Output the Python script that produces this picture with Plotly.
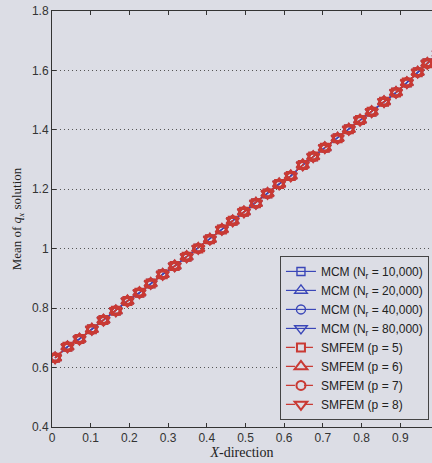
import plotly.graph_objects as go

# Marker positions along the X-direction and mean q_x values
x_pos = [0.008, 0.040, 0.071, 0.103, 0.133, 0.165, 0.195, 0.226, 0.255, 0.286,
         0.317, 0.348, 0.378, 0.408, 0.439, 0.467, 0.496, 0.527, 0.557, 0.587,
         0.617, 0.648, 0.675, 0.705, 0.738, 0.767, 0.796, 0.826, 0.858, 0.889,
         0.917, 0.945, 0.970, 0.999]
mean_qx = [0.633, 0.670, 0.696, 0.729, 0.760, 0.791, 0.824, 0.852, 0.883, 0.914,
           0.942, 0.973, 1.001, 1.032, 1.065, 1.094, 1.124, 1.153, 1.186, 1.218,
           1.245, 1.282, 1.310, 1.340, 1.372, 1.402, 1.433, 1.461, 1.495, 1.526,
           1.559, 1.594, 1.624, 1.657]

mcm_labels = ["MCM (N<sub>r</sub> = 10,000)", "MCM (N<sub>r</sub> = 20,000)",
              "MCM (N<sub>r</sub> = 40,000)", "MCM (N<sub>r</sub> = 80,000)"]
smfem_labels = ["SMFEM (p = 5)", "SMFEM (p = 6)", "SMFEM (p = 7)", "SMFEM (p = 8)"]
symbols = ["square-open", "triangle-up-open", "circle-open", "triangle-down-open"]
marker_sizes = [8, 11, 9, 11]

x_ticks = [0, 0.1, 0.2, 0.3, 0.4, 0.5, 0.6, 0.7, 0.8, 0.9, 1.0]
x_tick_text = ["0", "0.1", "0.2", "0.3", "0.4", "0.5", "0.6", "0.7", "0.8", "0.9", "1"]
y_ticks = [0.4, 0.6, 0.8, 1.0, 1.2, 1.4, 1.6, 1.8]
y_tick_text = ["0.4", "0.6", "0.8", "1", "1.2", "1.4", "1.6", "1.8"]

BLUE = "#3a46b8"
RED = "#c93a34"
BG = "#dcdde5"

fig = go.Figure()
for lab, sym, ms in zip(mcm_labels, symbols, marker_sizes):
    fig.add_trace(go.Scatter(
        x=x_pos, y=mean_qx, name=lab, mode="lines+markers",
        line=dict(color=BLUE, width=1.2),
        marker=dict(symbol=sym, size=ms, color=BLUE, line=dict(width=1.4, color=BLUE)),
    ))
for lab, sym, ms in zip(smfem_labels, symbols, marker_sizes):
    fig.add_trace(go.Scatter(
        x=x_pos, y=mean_qx, name=lab, mode="lines+markers",
        line=dict(color=RED, width=1.2, dash="dash"),
        marker=dict(symbol=sym, size=ms, color=RED, line=dict(width=2, color=RED)),
    ))

fig.update_layout(
    width=432, height=463,
    margin=dict(l=52, r=0, t=11, b=36),
    paper_bgcolor=BG, plot_bgcolor=BG,
    font=dict(family="Liberation Sans, Arial", size=11, color="#222222"),
    showlegend=True,
    legend=dict(
        x=0.992, y=0.017, xanchor="right", yanchor="bottom",
        bgcolor=BG, bordercolor="#444444", borderwidth=1,
        font=dict(family="Liberation Sans, Arial", size=12, color="#222222"),
        itemwidth=30, tracegroupgap=0,
    ),
    xaxis=dict(
        range=[0, 0.982], tickvals=x_ticks, ticktext=x_tick_text,
        ticks="inside", ticklen=4, tickcolor="#333333",
        showline=True, linecolor="#333333", linewidth=1, mirror="ticks",
        showgrid=False, zeroline=False,
        tickfont=dict(family="Liberation Sans, Arial", size=12, color="#333333"),
        title=dict(text="<i>X</i>-direction", standoff=1,
                   font=dict(family="Liberation Serif, Times New Roman", size=14, color="#222222")),
    ),
    yaxis=dict(
        range=[0.4, 1.8], tickvals=y_ticks, ticktext=y_tick_text,
        ticks="inside", ticklen=4, tickcolor="#333333",
        showline=True, linecolor="#333333", linewidth=1, mirror=False,
        showgrid=True, gridcolor="#555555", griddash="1px,3px", gridwidth=1,
        zeroline=False,
        tickfont=dict(family="Liberation Sans, Arial", size=12, color="#333333"),
        title=dict(text="Mean of <i>q<sub>x</sub></i> solution", standoff=7,
                   font=dict(family="Liberation Serif, Times New Roman", size=13, color="#222222")),
    ),
)

fig.write_html("out.html")
